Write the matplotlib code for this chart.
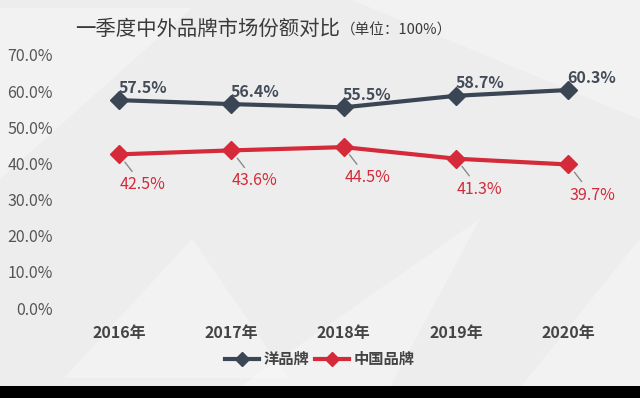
import numpy as np
import matplotlib.pyplot as plt
from matplotlib.patches import Polygon, Rectangle

plt.rcParams['font.family'] = ['Noto Sans CJK SC', 'DejaVu Sans']

# data
years = ['2016年', '2017年', '2018年', '2019年', '2020年']
foreign = [57.5, 56.4, 55.5, 58.7, 60.3]
domestic = [42.5, 43.6, 44.5, 41.3, 39.7]
series_names = ['洋品牌', '中国品牌']
yticks = [0, 10, 20, 30, 40, 50, 60, 70]

dark = '#3b4654'
red = '#d42a39'

fig = plt.figure(figsize=(6.4, 3.98), dpi=100)
fig.patch.set_facecolor('#ededed')

# faint geometric background shards (behind the axes)
shards = [
    [(0.0, 0.55), (0.30, 0.98), (0.0, 0.98)],
    [(0.55, 1.0), (1.0, 0.70), (1.0, 1.0)],
    [(0.35, 0.0), (0.75, 0.45), (0.60, 0.0)],
    [(0.80, 0.0), (1.0, 0.40), (1.0, 0.0)],
    [(0.10, 0.05), (0.30, 0.40), (0.45, 0.05)],
]
for pts in shards:
    fig.patches.append(Polygon(pts, closed=True, transform=fig.transFigure,
                               facecolor='white', alpha=0.3, lw=0, zorder=-2))
# black strip at the bottom
fig.patches.append(Rectangle((0, 0), 1, 12 / 398, transform=fig.transFigure,
                             facecolor='black', lw=0, zorder=5))

ax = fig.add_axes([0.098, 0.226, 0.878, 0.636])
ax.set_facecolor('none')
x = np.arange(len(years))

ax.plot(x, foreign, color=dark, lw=3, marker='D', ms=9, zorder=3)
ax.plot(x, domestic, color=red, lw=3, marker='D', ms=9, zorder=3)

# data labels
for i, v in enumerate(foreign):
    ax.annotate('{:.1f}%'.format(v), (x[i], v), xytext=(17, 9),
                textcoords='offset points', ha='center', va='center',
                fontsize=11.5, fontweight='bold', color='#434c58')
for i, v in enumerate(domestic):
    ax.annotate('{:.1f}%'.format(v), (x[i], v), xytext=(17, -22),
                textcoords='offset points', ha='center', va='center',
                fontsize=11.5, color=red,
                arrowprops=dict(arrowstyle='-', color='#8a8a8a', lw=1,
                                shrinkA=2, shrinkB=7))

ax.set_xlim(-0.5, len(years) - 0.5)
ax.set_ylim(0, 70)
ax.set_yticks(yticks)
ax.set_yticklabels(['{:.1f}%'.format(t) for t in yticks],
                   fontsize=11.5, color='#555555')
ax.set_xticks(x)
ax.set_xticklabels(years, fontsize=11.5, fontweight='bold', color='#444444')
ax.tick_params(axis='both', length=0)
ax.tick_params(axis='y', pad=7)
ax.tick_params(axis='x', pad=12)
for s in ax.spines.values():
    s.set_visible(False)

# title, with the unit note chained right after it
title = fig.text(0.117, 0.925, '一季度中外品牌市场份额对比', fontsize=14.7,
                 color='#3a3a3a', va='center', ha='left')
ax.annotate('（单位：100%）', xy=(1, 0.45), xycoords=title,
            xytext=(1, 0), textcoords='offset points',
            fontsize=10.5, color='#3a3a3a', va='center', ha='left',
            annotation_clip=False)

# legend
leg = ax.legend(series_names, loc='center', frameon=False, ncol=2,
                prop={'size': 11, 'weight': 'bold'}, handlelength=2.2,
                handletextpad=0.3, columnspacing=0.4, markerscale=0.75)
leg.set_bbox_to_anchor((0.5, 0.098), transform=fig.transFigure)
for t in leg.get_texts():
    t.set_color('#444444')

fig.savefig('out.png', dpi=100, facecolor=fig.get_facecolor())
